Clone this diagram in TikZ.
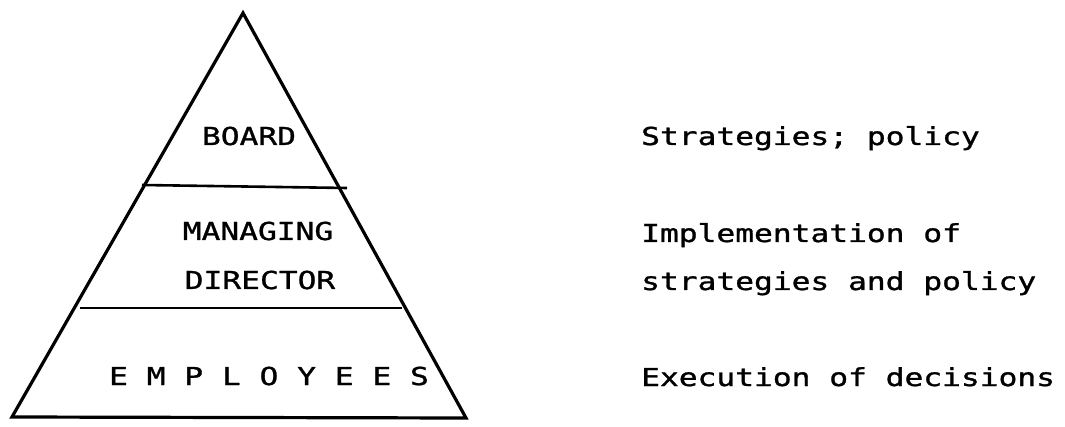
\documentclass[tikz,border=0pt]{standalone}
\usepackage{fontspec}
\usepackage{tikz}
\usetikzlibrary{positioning}
\newfontfamily\plotter[FakeStretch=1.265, FakeBold=1.2]{DejaVu Sans Mono}

\tikzset{
  layer/.style={font=\plotter\fontsize{24.7}{30}\selectfont, anchor=base, inner sep=0pt},
  note/.style={font=\plotter\fontsize{24.7}{30}\selectfont, anchor=base west, inner sep=0pt},
  edge/.style={line width=3.2pt, line join=miter}
}

\begin{document}
\begin{tikzpicture}[x=1pt,y=-1pt]
  \useasboundingbox (0,0) rectangle (1065,427);
  % the pyramid
  \coordinate (top) at (243,13);
  \coordinate (bl) at (12,417);
  \coordinate (br) at (466,418);
  \draw[edge] (top) -- (bl) -- (br) -- cycle;
  % dividing lines
  \coordinate (u1) at (142,185);
  \coordinate (u2) at (347,188);
  \coordinate (l1) at (80,308);
  \coordinate (l2) at (402,308);
  \draw[edge, line width=2.6pt] (u1) -- (u2);
  \draw[edge, line width=2.6pt] (l1) -- (l2);
  % levels
  \node[layer] (board) at (249,145) {BOARD};
  \node[layer] (managing) at (258,240) {MANAGING};
  \node[layer] (director) at (260,289) {DIRECTOR};
  \node[layer] (employees) at (269,385) {E M P L O Y E E S};
  % what each level does
  \node[note] (strat) at (641,145) {Strategies; policy};
  \node[note] (impl) at (641,242) {Implementation of};
  \node[note] (implb) at (641,290) {strategies and policy};
  \node[note] (exec) at (641,386) {Execution of decisions};
\end{tikzpicture}
\end{document}
